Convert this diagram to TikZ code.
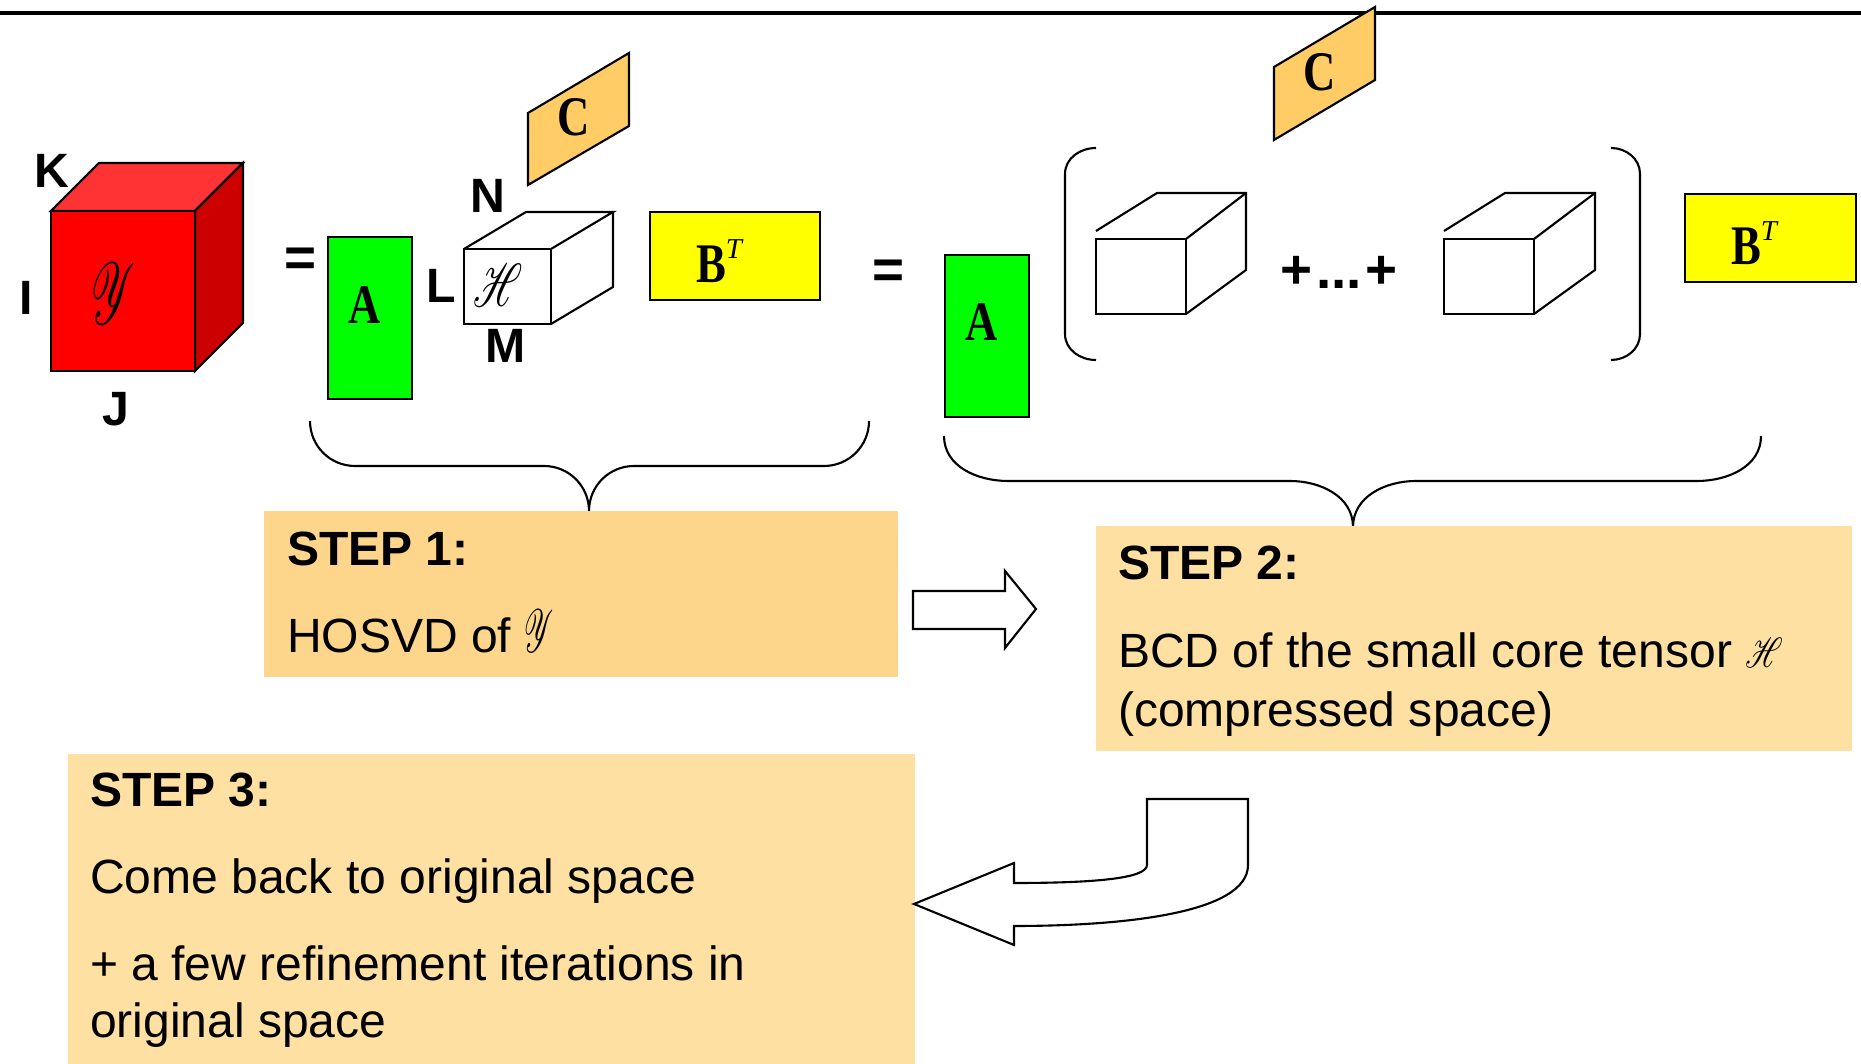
\documentclass[tikz,border=0pt]{standalone}
\usepackage{fontspec}
\setmainfont{Liberation Sans}
\newfontfamily\timesbf{Liberation Serif}
\usepackage{mathrsfs}

\definecolor{redfront}{HTML}{FF0000}
\definecolor{redtop}{HTML}{FF3333}
\definecolor{redside}{HTML}{CC0000}
\definecolor{matgreen}{HTML}{00FF00}
\definecolor{matyellow}{HTML}{FFFF00}
\definecolor{matorange}{HTML}{FFCC66}
\definecolor{stepone}{HTML}{FDD68C}
\definecolor{steptwo}{HTML}{FFE0A3}

\newcommand\condensed[1]{\scalebox{0.8}[1]{#1}}
\newcommand\tensorscr[2]{\scalebox{#1}[1]{$\mathscr{#2}$}}

\begin{document}
\begin{tikzpicture}[x=0.01cm, y=0.01cm, line width=0.6pt,
    lab/.style={font=\fontsize{13.7}{16}\selectfont\bfseries, inner sep=0pt, anchor=base},
    sym/.style={font=\fontsize{15.6}{18}\selectfont\bfseries, inner sep=0pt, anchor=base},
    mat/.style={font=\fontsize{15.9}{18}\selectfont\timesbf\bfseries, inner sep=0pt, anchor=base},
    txt/.style={font=\fontsize{13.66}{16}\selectfont, inner sep=0pt, anchor=base west}]
    \useasboundingbox (0,0) rectangle (1861,1064);

    \draw[line width=1pt] (0,1051) -- (1861,1051);

    % data tensor Y
    \filldraw[fill=redtop] (51,853) -- (99,901) -- (243,901) -- (195,853) -- cycle;
    \filldraw[fill=redside] (195,853) -- (243,901) -- (243,741) -- (195,693) -- cycle;
    \filldraw[fill=redfront] (51,693) rectangle (195,853);
    \node[font=\fontsize{23}{26}\selectfont] (bigY) at (113,770) {\tensorscr{0.5}{Y}};
    \node[lab] (dimK) at (52,876) {K};
    \node[lab] (dimI) at (26,749) {I};
    \node[lab] (dimJ) at (116,638) {J};

    \node[sym] (eq1) at (301,787) {=};

    % HOSVD
    \filldraw[fill=matgreen] (328,665) rectangle (412,827);
    \node[mat] (A1) at (365,740) {\condensed{A}};
    \node[lab] (dimL) at (441,761) {L};
    \draw (464,815) -- (526,852) -- (613,852) -- (551,815);
    \draw (613,852) -- (613,777) -- (551,740);
    \draw (464,740) rectangle (551,815);
    \node[font=\fontsize{19}{22}\selectfont] (coreH) at (498,779) {\tensorscr{0.64}{H}};
    \node[lab] (dimN) at (488,851) {N};
    \node[lab] (dimM) at (506,701) {M};
    \filldraw[fill=matorange] (528,879) -- (528,951) -- (629,1011) -- (629,938) -- cycle;
    \node[mat] (C1) at (574,928) {\condensed{C}};
    \filldraw[fill=matyellow] (650,764) rectangle (820,852);
    \node[mat, anchor=base west] (B1) at (695,781)
        {\condensed{B}\raisebox{7.1pt}{\fontsize{8.2}{9}\selectfont\mdseries\itshape T}};

    \node[sym] (eq2) at (889,775) {=};

    % BCD of the core
    \filldraw[fill=matgreen] (945,647) rectangle (1029,809);
    \node[mat] (A2) at (982,723) {\condensed{A}};
    \filldraw[fill=matorange] (1274,924) -- (1274,997) -- (1375,1057) -- (1375,984) -- cycle;
    \node[mat] (C2) at (1320,973) {\condensed{C}};
    \draw (1096,916) to[out=180, in=90] (1065,890) -- (1065,730) to[out=-90, in=180] (1096,704);
    \draw (1611,916) to[out=0, in=90] (1640,890) -- (1640,730) to[out=-90, in=0] (1611,704);
    \draw (1096,750) rectangle (1186,825);
    \draw (1096,833) -- (1157,871) -- (1246,871) -- (1246,794) -- (1186,750);
    \draw (1186,825) -- (1246,871);
    \node[sym] (dots) at (1339,775) {+\kern1pt...\kern1pt+};
    \draw (1444,750) rectangle (1534,825);
    \draw (1444,833) -- (1505,871) -- (1595,871) -- (1595,794) -- (1534,750);
    \draw (1534,825) -- (1595,871);
    \filldraw[fill=matyellow] (1685,782) rectangle (1856,870);
    \node[mat, anchor=base west] (B2) at (1730,799)
        {\condensed{B}\raisebox{7.1pt}{\fontsize{8.2}{9}\selectfont\mdseries\itshape T}};

    % braces
    \draw (310,643) to[out=-90, in=180] (355,598) -- (544,598) to[out=0, in=90] (589,553)
        to[out=90, in=180] (634,598) -- (824,598) to[out=0, in=-90] (869,643);
    \draw (944,628) to[out=-90, in=180] (1008,583) -- (1290,583) to[out=0, in=90] (1353,537)
        to[out=90, in=180] (1416,583) -- (1697,583) to[out=0, in=-90] (1761,628);

    % steps
    \fill[stepone] (264,387) rectangle (898,553);
    \node[txt] (s1a) at (286,498) {\bfseries STEP 1:};
    \node[txt] (s1b) at (286,411) {HOSVD of {\fontsize{17}{16}\selectfont\tensorscr{0.48}{Y}}};

    \fill[steptwo] (1096,313) rectangle (1852,538);
    \node[txt] (s2a) at (1117,484) {\bfseries STEP 2:};
    \node[txt] (s2b) at (1117,396) {BCD of the small core tensor {\fontsize{13}{16}\selectfont\tensorscr{0.7}{H}}};
    \node[txt] (s2c) at (1117,337) {(compressed space)};

    \fill[steptwo] (68,0) rectangle (915,310);
    \node[txt] (s3a) at (89,257) {\bfseries STEP 3:};
    \node[txt] (s3b) at (89,170) {Come back to original space};
    \node[txt] (s3c) at (89,83) {+ a few refinement iterations in};
    \node[txt] (s3d) at (89,26) {original space};

    % block arrows
    \draw (913,473) -- (1005,473) -- (1005,493) -- (1036,455) -- (1005,416)
        -- (1005,435) -- (913,435) -- cycle;
    \draw (1147,265) -- (1248,265) -- (1248,199) .. controls (1248,150) and (1120,138) .. (1014,138)
        -- (1014,119) -- (914,160) -- (1014,201) -- (1014,181)
        .. controls (1090,181) and (1147,185) .. (1147,199) -- cycle;
\end{tikzpicture}
\end{document}
